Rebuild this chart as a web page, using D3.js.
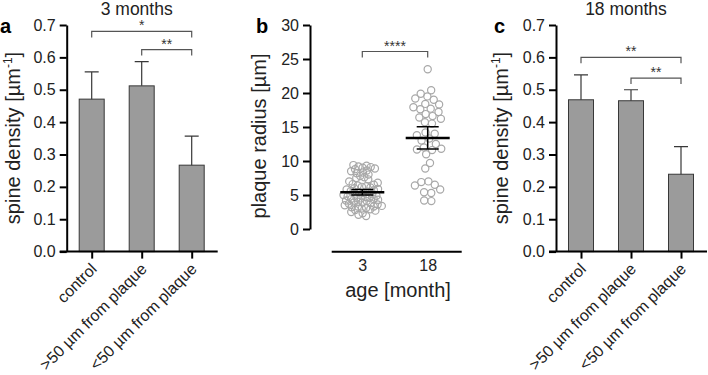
<!DOCTYPE html>
<html>
<head>
<meta charset="utf-8">
<script src="https://cdnjs.cloudflare.com/ajax/libs/d3/7.8.5/d3.min.js"></script>
<style>
  body { margin: 0; background: #fff; }
  svg { font-family: "Liberation Sans", Arial, sans-serif; }
  .tick text { font-size: 16px; fill: #222; }
</style>
</head>
<body>
<div class="chart"></div>
<script>
// Data

var categories = ["control", ">50 µm from plaque", "<50 µm from plaque"];

// panel a: 3 months
var density3m = [0.471, 0.512, 0.267];
var density3mErr = [0.555, 0.587, 0.357];   // top of error bar
var brackets3m = [[0, 2, "*", 0.680], [1, 2, "**", 0.624]];

// panel c: 18 months
var density18m = [0.469, 0.466, 0.239];
var density18mErr = [0.546, 0.500, 0.324];
var brackets18m = [[0, 2, "**", 0.600], [1, 2, "**", 0.536]];

var densityTicks = [0, 0.1, 0.2, 0.3, 0.4, 0.5, 0.6, 0.7];

// panel b: plaque radius
var ageGroups = ["3", "18"];
var radius3 = [9.4, 9.3, 9.2, 9.1, 9.0, 8.9, 8.8, 8.6, 8.5, 8.3, 8.2, 8.0, 7.8, 7.6, 7.5, 7.3,
  7.0, 6.8, 6.6, 6.5, 6.4, 6.3, 6.2, 6.1, 6.0, 5.9, 5.8, 5.7, 5.6, 5.5, 5.4, 5.3, 5.2, 5.1,
  5.0, 4.9, 4.8, 4.7, 4.6, 4.6, 4.5, 4.4, 4.4, 4.3, 4.2, 4.1, 4.0, 3.9, 3.9, 3.8, 3.7, 3.6,
  3.5, 3.4, 3.3, 3.3, 3.2, 3.1, 3.0, 2.9, 2.8, 2.7, 2.5, 2.3, 2.1, 1.9];
var radius18 = [23.5, 20.4, 19.9, 19.5, 19.2, 19.0, 18.4, 18.3, 17.9, 17.7, 17.6, 17.2, 16.9,
  16.6, 16.4, 16.2, 15.7, 15.5, 14.2, 14.0, 13.8, 13.3, 13.0, 12.5, 12.0, 11.8, 11.7, 11.6,
  11.0, 9.7, 8.9, 7.0, 6.9, 6.5, 6.4, 5.8, 5.4, 5.3, 4.2, 4.1];
var radiusMean = [5.4, 13.4];
var radiusSemLo = [5.0, 11.75];
var radiusSemHi = [5.8, 15.05];
var radiusTicks = [0, 5, 10, 15, 20, 25, 30];

var svg = d3.select(".chart")
    .append("svg")
    .attr("width", 708)
    .attr("height", 375);

// y label with a superscript
function densityLabel(g, cx, cy) {
    var t = g.append("text")
        .attr("transform", "translate(" + cx + "," + cy + ") rotate(-90)")
        .attr("text-anchor", "middle")
        .attr("dy", "0.35em")
        .attr("font-size", "20px")
        .attr("fill", "#222");
    t.append("tspan").text("spine density [µm");
    t.append("tspan").attr("font-size", "12px").attr("dy", "-0.7em").text("-1");
    t.append("tspan").attr("dy", "0.42em").text("]");
}

function barPanel(o) {
    var g = svg.append("g");

    var y = d3.scaleLinear().domain([0, 0.7]).range([251.6, 25]);
    var x = d3.scalePoint().domain(categories).range([o.left + 25, o.left + 125]);

    // bars
    g.selectAll("rect")
        .data(o.values)
        .enter()
        .append("rect")
        .attr("x", function(d, i) { return x(categories[i]) - 12.5; })
        .attr("y", function(d) { return y(d); })
        .attr("width", 25)
        .attr("height", function(d) { return y(0) - y(d); })
        .attr("fill", "#9b9b9b")
        .attr("stroke", "#383838")
        .attr("stroke-width", 1);

    // error bars (upper only)
    g.selectAll(".err")
        .data(o.err)
        .enter()
        .append("path")
        .attr("class", "err")
        .attr("fill", "none")
        .attr("stroke", "#383838")
        .attr("stroke-width", 1.2)
        .attr("d", function(d, i) {
            var cx = x(categories[i]);
            return "M" + cx + "," + y(o.values[i]) + "V" + y(d) +
                "M" + (cx - 7) + "," + y(d) + "H" + (cx + 7);
        });

    // significance brackets
    o.brackets.forEach(function(b) {
        var x1 = x(categories[b[0]]), x2 = x(categories[b[1]]), yy = y(b[3]);
        g.append("path")
            .attr("fill", "none")
            .attr("stroke", "#555")
            .attr("stroke-width", 1.2)
            .attr("d", "M" + x1 + "," + (yy + 6) + "V" + yy + "H" + x2 + "V" + (yy + 6));
        g.append("text")
            .attr("x", (x1 + x2) / 2)
            .attr("y", yy - 1)
            .attr("text-anchor", "middle")
            .attr("font-size", "14px")
            .attr("fill", "#333")
            .text(b[2]);
    });

    // axes
    var leftAxis = d3.axisLeft(y).tickValues(densityTicks)
        .tickFormat(d3.format(".1f")).tickSize(7).tickSizeOuter(0);
    var ya = g.append("g")
        .attr("transform", "translate(" + o.left + ",0)")
        .call(leftAxis);
    ya.selectAll("path, line").attr("stroke", "#000").attr("stroke-width", 2);
    ya.selectAll("text").attr("x", -11);

    g.append("line")
        .attr("x1", o.left - 7).attr("x2", o.left + 151)
        .attr("y1", y(0)).attr("y2", y(0))
        .attr("stroke", "#000").attr("stroke-width", 2);

    var bottomAxis = d3.axisBottom(x).tickSize(7).tickFormat("");
    var xa = g.append("g")
        .attr("transform", "translate(0," + y(0) + ")")
        .call(bottomAxis);
    xa.select(".domain").remove();
    xa.selectAll("line").attr("stroke", "#000").attr("stroke-width", 2);

    g.selectAll(".xlab")
        .data(categories)
        .enter()
        .append("text")
        .attr("class", "xlab")
        .attr("text-anchor", "end")
        .attr("font-size", "16px")
        .attr("fill", "#222")
        .attr("transform", function(d) {
            return "translate(" + (x(d) + 6) + "," + 270 + ") rotate(-45)";
        })
        .text(function(d) { return d; });

    g.append("text")
        .attr("x", o.left + 70).attr("y", 15)
        .attr("text-anchor", "middle")
        .attr("font-size", "17.5px")
        .attr("fill", "#222")
        .text(o.title);

    g.append("text")
        .attr("x", o.letterX).attr("y", 33)
        .attr("font-size", "20px")
        .attr("font-weight", "bold")
        .text(o.letter);

    densityLabel(g, o.labelX, 138);
}

barPanel({ left: 66.7, values: density3m, err: density3mErr, brackets: brackets3m,
    title: "3 months", letter: "a", letterX: 0, labelX: 13 });
barPanel({ left: 556, values: density18m, err: density18mErr, brackets: brackets18m,
    title: "18 months", letter: "c", letterX: 494, labelX: 501 });

// panel b: scatter
var gb = svg.append("g");
var yR = d3.scaleLinear().domain([0, 30]).range([229, 25]);
var xR = d3.scalePoint().domain(ageGroups).range([362.3, 427.7]);

function swarm(values, cx, r, k) {
    var nodes = values.map(function(v, i) {
        return { v: v, fy: yR(v), x: cx + (i % 2 ? 1 : -1) * (i % 9) };
    });
    var sim = d3.forceSimulation(nodes)
        .force("x", d3.forceX(cx).strength(k))
        .force("collide", d3.forceCollide(r))
        .stop();
    for (var i = 0; i < 300; i++) sim.tick();
    return nodes;
}

[radius3, radius18].forEach(function(vals, gi) {
    var nodes = gi === 0 ? swarm(vals, xR(ageGroups[gi]), 2.2, 0.06)
                         : swarm(vals, xR(ageGroups[gi]), 3.6, 0.03);
    gb.selectAll(".pt" + gi)
        .data(nodes)
        .enter()
        .append("circle")
        .attr("class", "pt" + gi)
        .attr("cx", function(d) { return d.x; })
        .attr("cy", function(d) { return d.fy; })
        .attr("r", 3.6)
        .attr("fill", "none")
        .attr("stroke", "#a8a8a8")
        .attr("stroke-width", 1.2);
});

// mean and SEM
ageGroups.forEach(function(a, i) {
    var cx = xR(a);
    gb.append("line")
        .attr("x1", cx - 22).attr("x2", cx + 22)
        .attr("y1", yR(radiusMean[i])).attr("y2", yR(radiusMean[i]))
        .attr("stroke", "#000").attr("stroke-width", 2.5);
    gb.append("path")
        .attr("fill", "none")
        .attr("stroke", "#000")
        .attr("stroke-width", 1.5)
        .attr("d", "M" + cx + "," + yR(radiusSemLo[i]) + "V" + yR(radiusSemHi[i]) +
            "M" + (cx - 11) + "," + yR(radiusSemLo[i]) + "H" + (cx + 11) +
            "M" + (cx - 11) + "," + yR(radiusSemHi[i]) + "H" + (cx + 11));
});

// bracket
gb.append("path")
    .attr("fill", "none").attr("stroke", "#555").attr("stroke-width", 1.2)
    .attr("d", "M" + xR("3") + "," + (yR(26.1) + 6) + "V" + yR(26.1) + "H" + xR("18") + "V" + (yR(26.1) + 6));
gb.append("text")
    .attr("x", (xR("3") + xR("18")) / 2).attr("y", yR(26.1) - 1)
    .attr("text-anchor", "middle").attr("font-size", "14px").attr("fill", "#333")
    .text("****");

var yaB = gb.append("g")
    .attr("transform", "translate(310,0)")
    .call(d3.axisLeft(yR).tickValues(radiusTicks).tickSize(7).tickSizeOuter(0));
yaB.selectAll("path, line").attr("stroke", "#000").attr("stroke-width", 2);
yaB.selectAll("text").attr("x", -11);

gb.append("line")
    .attr("x1", 331.7).attr("x2", 461.7).attr("y1", 251.7).attr("y2", 251.7)
    .attr("stroke", "#000").attr("stroke-width", 2);

var xaB = gb.append("g")
    .attr("transform", "translate(0,251.7)")
    .call(d3.axisBottom(xR).tickSize(0).tickPadding(8));
xaB.select(".domain").remove();

gb.append("text")
    .attr("x", 398).attr("y", 297)
    .attr("text-anchor", "middle").attr("font-size", "20px").attr("fill", "#222")
    .text("age [month]");

gb.append("text")
    .attr("transform", "translate(259,136) rotate(-90)")
    .attr("text-anchor", "middle").attr("dy", "0.35em")
    .attr("font-size", "20px").attr("fill", "#222")
    .text("plaque radius [µm]");

gb.append("text")
    .attr("x", 256).attr("y", 33)
    .attr("font-size", "20px").attr("font-weight", "bold")
    .text("b");
</script>
</body>
</html>
